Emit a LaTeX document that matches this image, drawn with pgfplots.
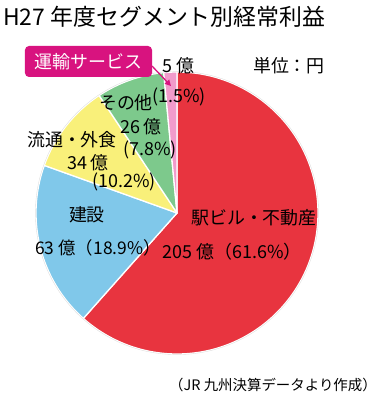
\documentclass[border=0pt]{standalone}
\usepackage{pgfplots}
\usepackage{pgfplotstable}
\pgfplotsset{compat=1.18}
\usepackage{fontspec}
\setmainfont{Noto Sans CJK JP}
\usetikzlibrary{arrows.meta}
\definecolor{cred}{HTML}{E8343F}
\definecolor{cblue}{HTML}{80C8EA}
\definecolor{cyellow}{HTML}{F9F07A}
\definecolor{cgreen}{HTML}{7DC98C}
\definecolor{cpink}{HTML}{F19BCB}
\definecolor{cmag}{HTML}{D8137F}
\pgfplotstableread{
seg value pct
eki 205 61.6
ken 63 18.9
ryu 34 10.2
son 26 7.8
unyu 5 1.5
}\pietable
\newcommand{\fs}[1]{\fontsize{#1}{#1}\selectfont}
\begin{document}
\begin{tikzpicture}
\pgfmathsetmacro{\tot}{0}
\foreach \i in {0,...,4}{%
  \pgfplotstablegetelem{\i}{value}\of\pietable
  \pgfmathsetmacro{\t}{\tot+\pgfplotsretval}%
  \xdef\tot{\t}%
}
\def\acc{0}
\pgfmathsetmacro{\aA}{90}
\foreach \i/\nm in {0/aB,1/aC,2/aD,3/aE,4/aF}{%
  \pgfplotstablegetelem{\i}{value}\of\pietable
  \pgfmathsetmacro{\t}{\acc+\pgfplotsretval}%
  \xdef\acc{\t}%
  \pgfmathsetmacro{\ang}{90-\acc/\tot*360}%
  \expandafter\xdef\csname\nm\endcsname{\ang}%
}
\begin{axis}[x=1bp,y=1bp,xmin=0,xmax=374,ymin=0,ymax=400,hide axis,clip=false,scale only axis]
\path (axis cs:0,0) rectangle (axis cs:374,400);
\def\pie#1#2#3{\filldraw[fill=#1,draw=white,line width=1.3pt,line join=round] (axis cs:177,187) -- ++(#2:141bp) arc[start angle=#2,end angle=#3,radius=141bp] -- cycle;}
\pie{cred}{\aA}{\aB}
\pie{cblue}{\aB}{\aC}
\pie{cyellow}{\aC}{\aD}
\pie{cgreen}{\aD}{\aE}
\pie{cpink}{\aE}{\aF}
\draw[black!12,line width=0.4pt] (axis cs:177,187) circle[radius=141.6bp];
% title
\node[anchor=west,inner sep=0] at (axis cs:3,383) {\fs{23}H27 年度セグメント別経常利益};
% label box
\node[fill=cmag,rounded corners=4bp,text=white,minimum width=127bp,minimum height=31bp,inner sep=0] at (axis cs:88.5,338.5) {\fs{18}運輸サービス};
\draw[cmag,line width=1.3pt,-{Triangle[length=6bp,width=6bp]}] (axis cs:152,334) -- (axis cs:171,314);
\node at (axis cs:178,334) {\fs{18}5 億};
\node at (axis cs:179,303) {\fs{18}(1.5\%)};
\node at (axis cs:289,334) {\fs{18}単位：円};
\node at (axis cs:126,297) {\fs{18}その他};
\node at (axis cs:141,273) {\fs{18}26 億};
\node at (axis cs:150,250) {\fs{18}(7.8\%)};
\node at (axis cs:72,260) {\fs{18}流通・外食};
\node at (axis cs:88,237) {\fs{18}34 億};
\node at (axis cs:124,218) {\fs{18}(10.2\%)};
\node at (axis cs:87,185) {\fs{18}建設};
\node at (axis cs:98,152) {\fs{17.5}63 億（18.9\%）};
\node at (axis cs:254,182) {\fs{18}駅ビル・不動産};
\node at (axis cs:232,148) {\fs{18}205 億（61.6\%）};
\node at (axis cs:273,15) {\fs{14.5}（JR 九州決算データより作成）};
\end{axis}
\end{tikzpicture}
\end{document}
